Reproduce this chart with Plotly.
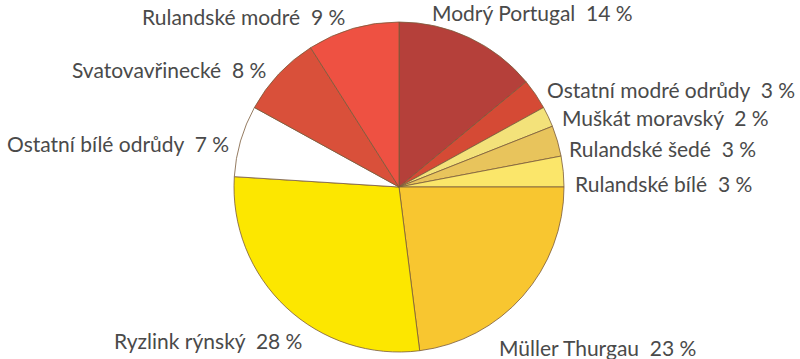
import plotly.graph_objects as go

W, H = 800, 359

varieties = ["Modrý Portugal", "Ostatní modré odrůdy", "Muškát moravský",
             "Rulandské šedé", "Rulandské bílé", "Müller Thurgau",
             "Ryzlink rýnský", "Ostatní bílé odrůdy", "Svatovavřinecké",
             "Rulandské modré"]
shares = [14, 3, 2, 3, 3, 23, 28, 7, 8, 9]
slice_colors = ["#B5403A", "#D54A35", "#F3E27A", "#E8C45C", "#FBE66A",
                "#F8C630", "#FCE700", "#FFFFFF", "#D9503A", "#EE5142"]

# label placement (pixel: left x, center y)
label_pos = [(430, 12), (545, 89), (560, 118), (567, 149), (573, 183),
             (497, 347), (112, 340), (5, 143), (70, 70), (140, 17)]

cx, cy, r = 399, 187, 165

fig = go.Figure(go.Pie(
    labels=varieties,
    values=shares,
    sort=False,
    direction="clockwise",
    rotation=0,
    marker=dict(colors=slice_colors, line=dict(color="#7a5a3a", width=0.8)),
    textinfo="none",
    hoverinfo="label+percent",
    showlegend=False,
    domain=dict(x=[(cx - r) / W, (cx + r) / W],
                y=[(H - cy - r) / H, (H - cy + r) / H]),
))

annotations = []
for name, val, (px, py) in zip(varieties, shares, label_pos):
    annotations.append(dict(
        text=f"{name}\u00a0\u00a0{val}\u00a0%",
        x=px / W, y=1 - py / H, xref="paper", yref="paper",
        xanchor="left", yanchor="middle", showarrow=False,
        font=dict(family="Lato", size=21, color="#4a4a4a"),
    ))

fig.update_layout(
    width=W, height=H,
    margin=dict(l=0, r=0, t=0, b=0),
    paper_bgcolor="white", plot_bgcolor="white",
    annotations=annotations,
)

fig.write_html("out.html")
